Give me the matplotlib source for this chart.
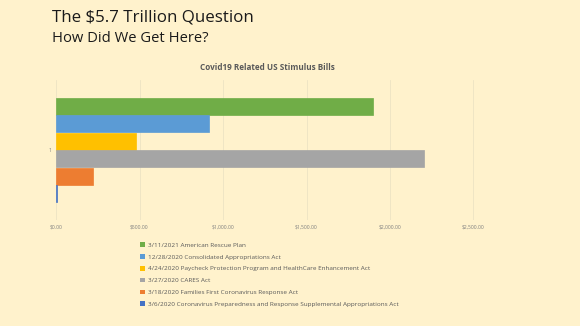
import matplotlib.pyplot as plt
from matplotlib.patches import Patch

# Bills, top to bottom as drawn (billions of dollars)
bills = [
    '3/11/2021 American Rescue Plan',
    '12/28/2020 Consolidated Appropriations Act',
    '4/24/2020 Paycheck Protection Program and HealthCare Enhancement Act',
    '3/27/2020 CARES Act',
    '3/18/2020 Families First Coronavirus Response Act',
    '3/6/2020 Coronavirus Preparedness and Response Supplemental Appropriations Act',
]
amounts = [1900, 918, 482, 2204, 223, 8.3]
colors = ['#70AD47', '#5B9BD5', '#FFC000', '#A5A5A5', '#ED7D31', '#4472C4']
xticks = [0, 500, 1000, 1500, 2000, 2500]
xtick_labels = ['$0.00', '$500.00', '$1,000.00', '$1,500.00', '$2,000.00', '$2,500.00']

bg = '#FFF2CC'
plt.rcParams['font.family'] = ['Open Sans', 'DejaVu Sans']

fig = plt.figure(figsize=(5.8, 3.26), dpi=100, facecolor=bg)
ax = fig.add_axes([56 / 580, 1 - 220 / 326, 501 / 580, 140 / 326])
ax.set_facecolor(bg)

# grouped bars inside the single category "1"
n = len(amounts)
h = 0.75 / n
for i, (val, c) in enumerate(zip(amounts, colors)):
    y = 1 + 0.375 - h * (i + 0.5)
    ax.barh(y, val, height=h * 0.97, color=c, edgecolor=c, linewidth=0.5, zorder=3)

ax.set_xlim(0, 3000)
ax.set_ylim(0.5, 1.5)
ax.set_xticks(xticks)
ax.set_xticklabels(xtick_labels, fontsize=3.6, color='#7F7F7F')
ax.set_yticks([1])
ax.set_yticklabels(['1'], fontsize=3.6, color='#7F7F7F')
ax.tick_params(length=0, pad=3)
ax.grid(axis='x', color='#EDE3C3', linewidth=0.6, zorder=0)
for s in ax.spines.values():
    s.set_visible(False)

fig.text(52 / 580, 1 - 18 / 326, 'The $5.7 Trillion Question', fontsize=12.2,
         color='#1a1a1a', va='center', ha='left')
fig.text(52 / 580, 1 - 38 / 326, 'How Did We Get Here?', fontsize=10.6,
         color='#1a1a1a', va='center', ha='left')
fig.text(267 / 580, 1 - 68 / 326, 'Covid19 Related US Stimulus Bills', fontsize=5.9,
         fontweight='bold', color='#595959', ha='center', va='center')

handles = [Patch(facecolor=c, edgecolor='none') for c in colors]
fig.legend(handles, bills, loc='upper left', bbox_to_anchor=(137 / 580, 1 - 239 / 326),
           frameon=False, fontsize=4.6, labelcolor='#595959', handlelength=0.75,
           handleheight=0.75, handletextpad=0.45, labelspacing=0.98, borderpad=0)

fig.savefig('out.png', dpi=100, facecolor=bg)
